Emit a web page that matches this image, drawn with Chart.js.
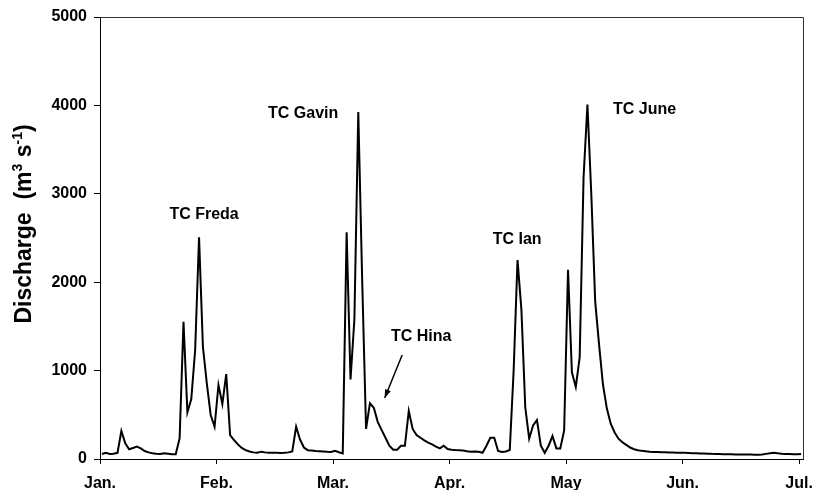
<!DOCTYPE html>
<html>
<head>
<meta charset="utf-8">
<title>Discharge</title>
<script src="https://cdn.jsdelivr.net/npm/chart.js"></script>
<style>
  html, body { margin: 0; padding: 0; background: #fff; }
  #wrap { width: 816px; height: 490px; }
</style>
</head>
<body>
<div id="wrap"><canvas id="flow" width="816" height="490"></canvas></div>
<script>
// month starts on the day axis, labelled below
const monthLabels = ["Jan.", "Feb.", "Mar.", "Apr.", "May", "Jun.", "Jul."];
const monthTicks = [0, 30, 60, 90, 120, 150, 180];

// daily discharge, m3/s, Jan -> Jul
const discharge = [
  57, 70, 57, 60, 70, 317, 177, 110, 125, 140,
  120, 90, 75, 65, 60, 57, 65, 60, 55, 53,
  234, 1553, 528, 679, 1233, 2507, 1270, 856, 498, 365,
  837, 622, 961, 271, 215, 165, 125, 100, 85, 75,
  70, 83, 75, 70, 72, 72, 68, 70, 75, 85,
  366, 220, 130, 100, 95, 90, 88, 85, 82, 80,
  92, 76, 64, 2565, 900, 1580, 3925, 2030, 340, 630,
  580, 420, 330, 240, 150, 105, 105, 150, 150, 543,
  340, 270, 240, 210, 185, 165, 140, 121, 150, 113,
  105, 102, 100, 95, 88, 83, 85, 83, 71, 150,
  241, 241, 90, 79, 85, 102, 1000, 2250, 1690, 580,
  230, 380, 440, 150, 70, 150, 260, 120, 120, 320,
  2140, 980, 815, 1150, 3185, 4010, 2990, 1780, 1290, 840,
  570, 400, 300, 230, 190, 160, 130, 110, 100, 92,
  87, 83, 80, 78, 76, 75, 74, 73, 72, 71,
  70, 68, 66, 65, 63, 62, 60, 58, 57, 56,
  55, 54, 53, 52, 51, 51, 50, 50, 49, 49,
  50, 58, 66, 71, 65, 60, 57, 56, 55, 55,
  57
];

const stormNames = ["TC Freda", "TC Gavin", "TC Hina", "TC Ian", "TC June"];

const FONT = "'Liberation Sans', Arial, Helvetica, sans-serif";

// frame, storm names, Hina arrow and the y title with superscripts
const decorations = {
  id: "decorations",
  afterDraw(chart) {
    const { ctx, chartArea: a, scales: { x, y } } = chart;
    ctx.save();

    // top and right edges of the plot box
    ctx.strokeStyle = "#333";
    ctx.lineWidth = 1;
    ctx.beginPath();
    ctx.moveTo(Math.round(a.left) + 0.5, Math.round(a.top) + 0.5);
    ctx.lineTo(Math.round(a.right) + 0.5, Math.round(a.top) + 0.5);
    ctx.lineTo(Math.round(a.right) + 0.5, Math.round(a.bottom) + 0.5);
    ctx.stroke();

    // storm labels, anchored in day / discharge units
    const anchors = [[26.8, 2760], [52.3, 3910], [82.7, 1383], [107.4, 2485], [140.2, 3948]];
    ctx.fillStyle = "#000";
    ctx.font = "bold 16px " + FONT;
    ctx.textAlign = "center";
    ctx.textBaseline = "middle";
    stormNames.forEach((name, i) => {
      ctx.fillText(name, x.getPixelForValue(anchors[i][0]), y.getPixelForValue(anchors[i][1]));
    });

    // arrow from the Hina label down to the recession
    const x0 = x.getPixelForValue(77.8), y0 = y.getPixelForValue(1176);
    const x1 = x.getPixelForValue(73.3), y1 = y.getPixelForValue(690);
    ctx.strokeStyle = "#000";
    ctx.lineWidth = 1.5;
    ctx.beginPath();
    ctx.moveTo(x0, y0);
    ctx.lineTo(x1, y1);
    ctx.stroke();
    const ang = Math.atan2(y1 - y0, x1 - x0);
    ctx.beginPath();
    ctx.moveTo(x1, y1);
    ctx.lineTo(x1 - 9 * Math.cos(ang - 0.35), y1 - 9 * Math.sin(ang - 0.35));
    ctx.lineTo(x1 - 9 * Math.cos(ang + 0.35), y1 - 9 * Math.sin(ang + 0.35));
    ctx.closePath();
    ctx.fill();

    // y axis title: Discharge  (m^3 s^-1)
    const parts = [
      ["Discharge  (m", false],
      ["3", true],
      [" s", false],
      ["-1", true],
      [")", false]
    ];
    const big = "bold 23px " + FONT, small = "bold 14px " + FONT;
    let total = 0;
    parts.forEach(([t, sup]) => { ctx.font = sup ? small : big; total += ctx.measureText(t).width; });
    ctx.translate(31, 224);
    ctx.rotate(-Math.PI / 2);
    ctx.textAlign = "left";
    ctx.textBaseline = "alphabetic";
    let cx = -total / 2;
    parts.forEach(([t, sup]) => {
      ctx.font = sup ? small : big;
      ctx.fillText(t, cx, sup ? -9 : 0);
      cx += ctx.measureText(t).width;
    });

    ctx.restore();
  }
};

new Chart(document.getElementById("flow"), {
  type: "line",
  data: {
    datasets: [{
      data: discharge.map((v, i) => ({ x: i + 0.5, y: v })),
      borderColor: "#000",
      borderWidth: 2,
      pointRadius: 0,
      tension: 0,
      fill: false
    }]
  },
  options: {
    responsive: false,
    animation: false,
    devicePixelRatio: 1,
    layout: { padding: { left: 0, right: 13, top: 17, bottom: 0 } },
    plugins: { legend: { display: false }, tooltip: { enabled: false } },
    scales: {
      x: {
        type: "linear",
        min: 0,
        max: 181,
        afterBuildTicks: (s) => { s.ticks = monthTicks.map((v) => ({ value: v })); },
        afterFit: (s) => { s.height = 31; s.paddingLeft = 0; s.paddingRight = 0; },
        ticks: {
          autoSkip: false,
          maxRotation: 0,
          padding: 10,
          color: "#000",
          font: { family: FONT, size: 16, weight: "bold" },
          callback: (v) => monthLabels[monthTicks.indexOf(v)]
        },
        grid: { drawOnChartArea: false, tickLength: 5, color: "#000" },
        border: { color: "#000", width: 1 }
      },
      y: {
        min: 0,
        max: 5000,
        afterFit: (s) => { s.width = 100; s.paddingTop = 0; s.paddingBottom = 0; },
        ticks: {
          stepSize: 1000,
          padding: 7,
          color: "#000",
          font: { family: FONT, size: 16, weight: "bold" },
          callback: (v) => String(v)
        },
        grid: { drawOnChartArea: false, tickLength: 6, color: "#000" },
        border: { color: "#000", width: 1 }
      }
    }
  },
  plugins: [decorations]
});
</script>
</body>
</html>
